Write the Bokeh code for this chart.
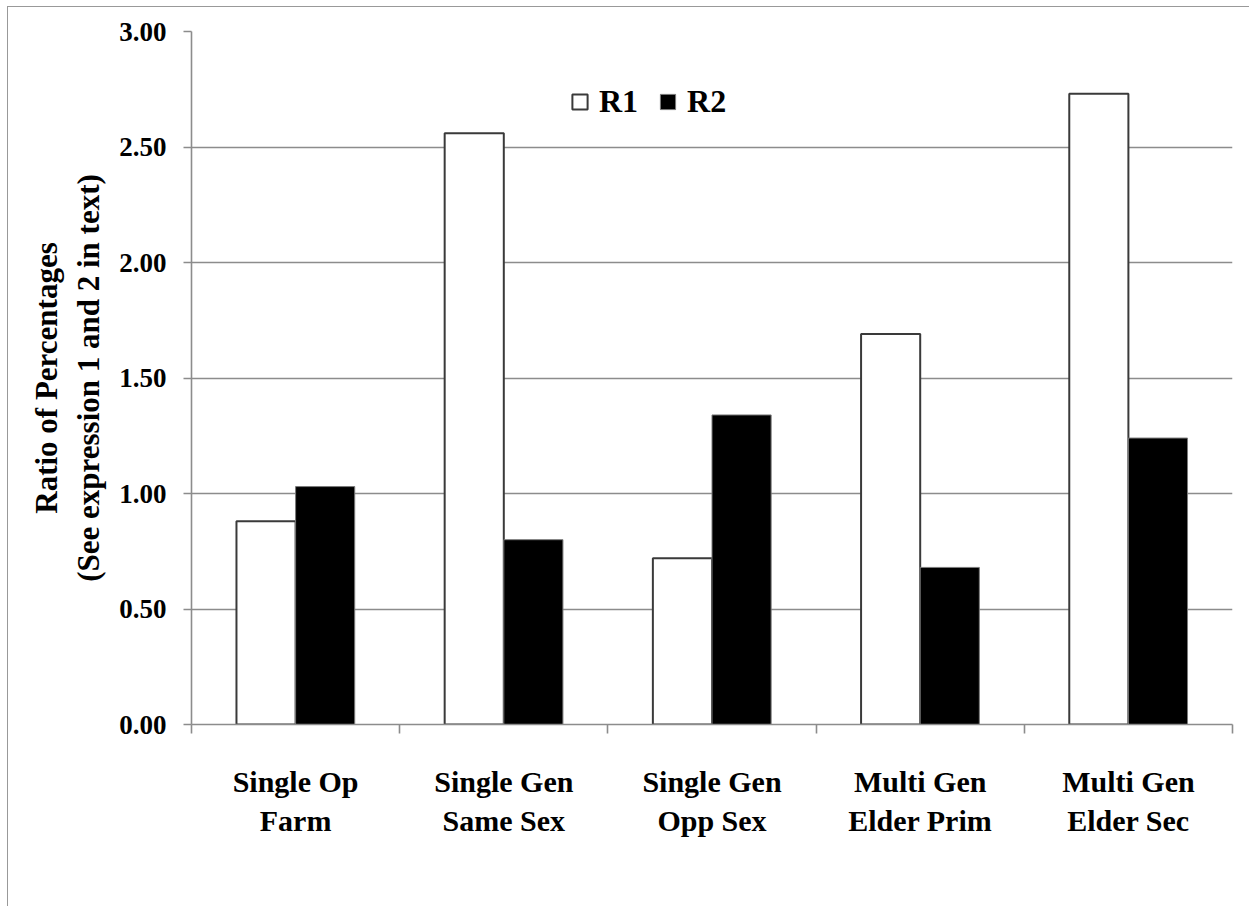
from bokeh.plotting import figure
from bokeh.models import (Range1d, FixedTicker, Legend, LegendItem,
                          ColumnDataSource, CustomJSTickFormatter)
from bokeh.embed import file_html
from bokeh.resources import INLINE

# Data
categories = ["Single Op\nFarm", "Single Gen\nSame Sex", "Single Gen\nOpp Sex",
              "Multi Gen\nElder Prim", "Multi Gen\nElder Sec"]
r1 = [0.88, 2.56, 0.72, 1.69, 2.73]
r2 = [1.03, 0.80, 1.34, 0.68, 1.24]
y_ticks = [0.0, 0.5, 1.0, 1.5, 2.0, 2.5, 3.0]

FONT = "Liberation Serif"
GRAY = "#8c8c8c"

n = len(categories)
centers = [i + 0.5 for i in range(n)]
bar_w = 0.284
r1_x = [c - bar_w / 2 for c in centers]
r2_x = [c + bar_w / 2 for c in centers]

# The page frame sits a few px in from the window corner
OFF_X, OFF_Y, BORDER = 7, 6, 1

p = figure(width=1250 - OFF_X - BORDER, height=907 - OFF_Y - BORDER,
           output_backend="svg", toolbar_location=None,
           x_range=Range1d(0, n), y_range=Range1d(0, 3),
           min_border_left=191 - OFF_X - BORDER, min_border_right=18,
           min_border_top=31 - OFF_Y - BORDER, min_border_bottom=183)
p.outline_line_color = None
p.background_fill_color = "white"
p.border_fill_color = "white"
p.styles = {"margin-left": f"{OFF_X}px", "margin-top": f"{OFF_Y}px",
            "border-left": f"{BORDER}px solid #999999",
            "border-top": f"{BORDER}px solid #999999"}

src1 = ColumnDataSource(dict(x=r1_x, top=r1))
src2 = ColumnDataSource(dict(x=r2_x, top=r2))
b1 = p.vbar(x="x", top="top", bottom=0, width=bar_w, source=src1,
            fill_color="white", line_color="#3a3a3a", line_width=2)
b2 = p.vbar(x="x", top="top", bottom=0, width=bar_w, source=src2,
            fill_color="black", line_color="#7a7a7a", line_width=1)

# Grid
p.xgrid.visible = False
p.ygrid.ticker = FixedTicker(ticks=y_ticks[1:])
p.ygrid.grid_line_color = GRAY
p.ygrid.grid_line_width = 1.6

# Y axis
ya = p.yaxis[0]
ya.ticker = FixedTicker(ticks=y_ticks)
ya.formatter = CustomJSTickFormatter(code="return tick.toFixed(2);")
ya.axis_line_color = GRAY
ya.axis_line_width = 1.6
ya.major_tick_line_color = GRAY
ya.major_tick_line_width = 1.6
ya.major_tick_out = 8
ya.major_tick_in = 0
ya.minor_tick_line_color = None
ya.major_label_text_font = FONT
ya.major_label_text_font_style = "bold"
ya.major_label_text_font_size = "27px"
ya.major_label_text_color = "black"
ya.major_label_standoff = 17
ya.axis_label = "Ratio of Percentages\n(See expression 1 and 2 in text)"
ya.axis_label_text_font = FONT
ya.axis_label_text_font_style = "bold"
ya.axis_label_text_font_size = "31px"
ya.axis_label_text_color = "black"
ya.axis_label_standoff = 10

# X axis: category labels at centres, boundary ticks between categories
xa = p.xaxis[0]
xa.ticker = FixedTicker(ticks=centers, minor_ticks=list(range(n + 1)))
xa.major_label_overrides = {c: lab for c, lab in zip(centers, categories)}
xa.axis_line_color = GRAY
xa.axis_line_width = 1.6
xa.major_tick_line_color = None
xa.major_tick_out = 0
xa.major_tick_in = 0
xa.minor_tick_line_color = GRAY
xa.minor_tick_line_width = 1.6
xa.minor_tick_out = 9
xa.minor_tick_in = 0
xa.major_label_text_font = FONT
xa.major_label_text_font_style = "bold"
xa.major_label_text_font_size = "30px"
xa.major_label_text_color = "black"
xa.major_label_standoff = 31

# Legend
legend = Legend(items=[LegendItem(label="R1", renderers=[b1]),
                       LegendItem(label="R2", renderers=[b2])],
                orientation="horizontal", location=(379, 604),
                border_line_color=None, background_fill_alpha=0,
                label_text_font=FONT, label_text_font_style="bold",
                label_text_font_size="32px", label_text_color="black",
                glyph_width=19, glyph_height=19, label_standoff=10,
                spacing=20, padding=0, margin=0)
p.add_layout(legend)

open("out.html", "w").write(file_html(p, INLINE))
